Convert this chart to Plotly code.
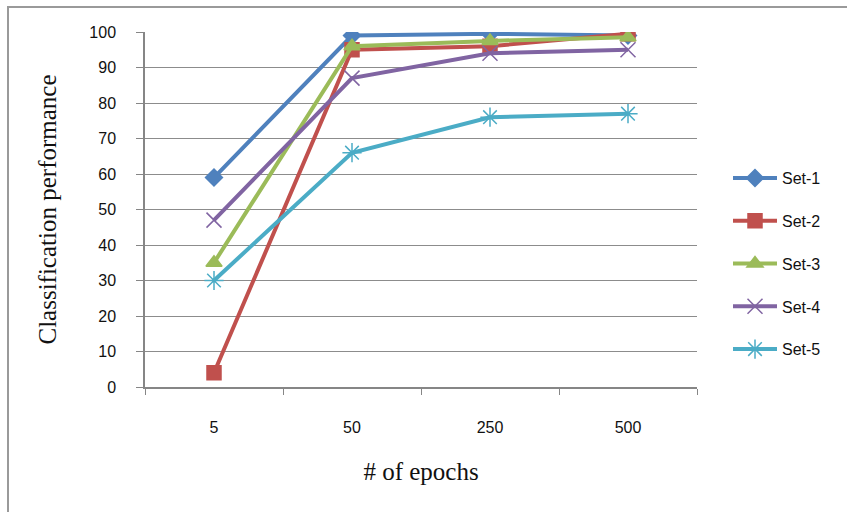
import plotly.graph_objects as go

epochs = ["5", "50", "250", "500"]
series_names = ["Set-1", "Set-2", "Set-3", "Set-4", "Set-5"]
set1 = [59, 99, 99.5, 99]
set2 = [4, 95, 96, 99.5]
set3 = [35, 96, 97.5, 98.5]
set4 = [47, 87, 94, 95]
set5 = [30, 66, 76, 77]
y_ticks = list(range(0, 101, 10))

colors = ["#4F81BD", "#C0504D", "#9BBB59", "#8064A2", "#4BACC6"]
symbols = ["diamond", "square", "triangle-up", "x-thin-open", "asterisk-open"]
sizes = [13, 14, 14, 15, 16]
values = [set1, set2, set3, set4, set5]

fig = go.Figure()
for i, (name, vals) in enumerate(zip(series_names, values)):
    fig.add_trace(go.Scatter(
        x=epochs, y=vals, name=name, mode="lines+markers",
        line=dict(color=colors[i], width=4),
        marker=dict(symbol=symbols[i], size=sizes[i], color=colors[i],
                    line=dict(color=colors[i], width=1.5)),
        legendgroup=name,
    ))

W, H = 847, 512
L, R, T, B = 145, 697, 32, 387
fig.update_layout(
    width=W, height=H,
    margin=dict(l=L, r=W - R, t=T, b=H - B, pad=0),
    paper_bgcolor="white", plot_bgcolor="white",
    showlegend=True,
    legend=dict(x=(728 - L) / (R - L), y=(B - 161) / (B - T), xanchor="left", yanchor="top",
                font=dict(family="Liberation Sans", size=16, color="#111"),
                tracegroupgap=19, bgcolor="rgba(0,0,0,0)", itemwidth=44),
    font=dict(family="Liberation Sans", color="#111"),
)
fig.update_xaxes(
    type="category", range=[-0.5, 3.5], tickson="boundaries",
    ticks="outside", ticklen=6, tickcolor="#868686", tickwidth=1,
    showline=True, linecolor="#868686", linewidth=1.5,
    showgrid=False, ticklabelstandoff=25,
    tickfont=dict(family="Liberation Sans", size=16, color="#111"),
    title=dict(text="# of epochs", font=dict(family="Liberation Serif", size=25, color="#111"), standoff=28),
)
fig.update_yaxes(
    range=[0, 100], tickvals=y_ticks,
    ticks="outside", ticklen=7, tickcolor="#868686", tickwidth=1,
    showline=True, linecolor="#868686", linewidth=1.5,
    showgrid=True, gridcolor="#8c8c8c", gridwidth=1.3,
    zeroline=False, ticklabelstandoff=17,
    tickfont=dict(family="Liberation Sans", size=16, color="#111"),
    title=dict(text="Classification performance", font=dict(family="Liberation Serif", size=25, color="#111"), standoff=26),
)
# outer chart border
fig.add_shape(type="rect", xref="paper", yref="paper",
              x0=(8 - L) / (R - L), x1=(900 - L) / (R - L),
              y0=(B - 560) / (B - T), y1=(B - 7) / (B - T),
              line=dict(color="#9a9a9a", width=2), fillcolor="rgba(0,0,0,0)", layer="below")

fig.write_html("out.html")
